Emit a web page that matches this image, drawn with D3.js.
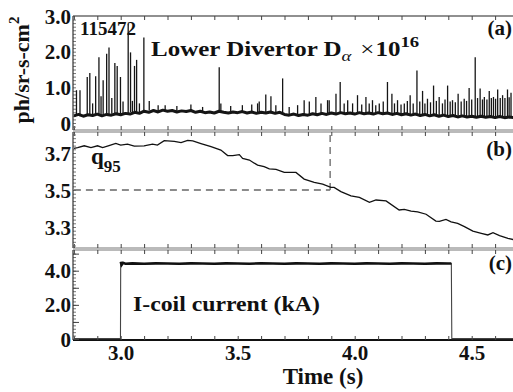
<!DOCTYPE html>
<html><head><meta charset="utf-8">
<script src="https://cdn.jsdelivr.net/npm/d3@7"></script>
<style>
html,body{margin:0;padding:0;background:#fff;}
svg{display:block;}
</style></head><body>
<svg id="chart" width="513" height="392"></svg>
<script>
// ---- data ----
const timeTicks = [3.0, 3.5, 4.0, 4.5];
const timeTickLabels = ["3.0", "3.5", "4.0", "4.5"];

const daTicks = [0, 1, 2, 3];
const daTickLabels = ["0", "1.0", "2.0", "3.0"];
const q95Ticks = [3.3, 3.5, 3.7];
const q95TickLabels = ["3.3", "3.5", "3.7"];
const coilTicks = [0, 2, 4];
const coilTickLabels = ["0", "2.0", "4.0"];

// Lower divertor D-alpha: background level [time (s), value]
const daBaseline = [
  [2.80,0.20],[2.82,0.24],[2.84,0.19],[2.86,0.23],[2.88,0.21],[2.90,0.25],[2.92,0.20],[2.94,0.24],
  [2.96,0.22],[2.98,0.26],[3.00,0.23],[3.02,0.27],[3.04,0.25],[3.06,0.30],[3.08,0.27],[3.10,0.33],
  [3.12,0.30],[3.14,0.35],[3.16,0.31],[3.18,0.36],[3.20,0.33],[3.22,0.35],[3.24,0.31],[3.26,0.34],
  [3.28,0.32],[3.30,0.35],[3.32,0.30],[3.34,0.33],[3.36,0.29],[3.38,0.31],[3.40,0.28],[3.42,0.33],
  [3.44,0.30],[3.46,0.28],[3.48,0.31],[3.50,0.29],[3.52,0.32],[3.54,0.28],[3.56,0.31],[3.58,0.27],
  [3.60,0.30],[3.62,0.28],[3.64,0.31],[3.66,0.27],[3.68,0.30],[3.70,0.24],[3.72,0.22],[3.74,0.25],
  [3.76,0.21],[3.78,0.24],[3.80,0.22],[3.82,0.26],[3.84,0.23],[3.86,0.27],[3.88,0.24],[3.90,0.28],
  [3.92,0.25],[3.94,0.29],[3.96,0.26],[3.98,0.28],[4.00,0.25],[4.02,0.29],[4.04,0.26],[4.06,0.28],
  [4.08,0.25],[4.10,0.29],[4.12,0.26],[4.14,0.28],[4.16,0.24],[4.18,0.27],[4.20,0.23],[4.22,0.26],
  [4.24,0.22],[4.26,0.25],[4.28,0.21],[4.30,0.24],[4.32,0.20],[4.34,0.23],[4.36,0.19],[4.38,0.22],
  [4.40,0.18],[4.42,0.21],[4.44,0.17],[4.46,0.20],[4.48,0.17],[4.50,0.19],[4.52,0.16],[4.54,0.19],
  [4.56,0.16],[4.58,0.18],[4.60,0.15],[4.62,0.18],[4.64,0.15],[4.66,0.17],[4.68,0.15],[4.70,0.16]
];

// ELM spikes: [time (s), peak value]
const daSpikes = [
  [2.811,0.92],[2.826,0.92],[2.857,1.29],[2.868,1.40],[2.880,0.55],[2.893,1.31],[2.907,1.84],[2.916,0.75],
  [2.925,1.20],[2.940,1.94],[2.950,2.12],[2.962,0.70],[2.975,1.68],[2.985,1.60],[2.999,1.29],[3.010,0.60],
  [3.032,2.77],[3.042,1.98],[3.050,0.62],[3.059,1.60],[3.068,1.77],[3.080,0.55],[3.099,2.40],[3.122,0.62],
  [3.160,0.50],[3.190,0.50],[3.240,0.48],[3.300,0.52],[3.350,0.45],[3.421,1.56],[3.428,0.55],[3.470,0.48],
  [3.520,0.50],[3.560,0.52],[3.585,0.55],[3.592,0.60],[3.620,0.80],[3.642,0.75],[3.663,0.50],[3.692,1.25],
  [3.720,0.45],[3.756,0.50],[3.784,0.64],[3.806,0.60],[3.834,0.73],[3.856,0.55],[3.884,0.64],[3.891,0.64],
  [3.920,0.82],[3.938,1.15],[3.955,0.55],[3.970,0.64],[3.991,0.55],[4.012,0.78],[4.030,0.52],[4.048,0.73],
  [4.062,0.55],[4.076,0.64],[4.090,0.50],[4.105,0.55],[4.122,0.60],[4.140,1.15],[4.159,0.82],[4.170,0.55],
  [4.183,0.64],[4.198,0.52],[4.212,0.55],[4.225,0.62],[4.237,0.78],[4.250,0.55],[4.266,1.47],[4.278,0.60],
  [4.290,0.90],[4.300,0.55],[4.311,0.68],[4.324,0.58],[4.337,1.05],[4.349,0.62],[4.361,0.73],[4.375,0.55],
  [4.386,0.66],[4.397,1.05],[4.408,0.60],[4.418,0.64],[4.430,0.58],[4.442,0.82],[4.455,0.60],[4.468,0.68],
  [4.478,0.62],[4.489,0.98],[4.500,0.66],[4.515,1.84],[4.525,0.70],[4.536,0.97],[4.546,0.66],[4.554,0.73],
  [4.565,0.66],[4.575,0.90],[4.584,0.70],[4.593,0.73],[4.602,0.68],[4.611,0.94],[4.622,0.70],[4.632,0.78],
  [4.642,0.70],[4.653,0.94],[4.660,0.72],[4.668,0.85],[4.680,0.75],[4.692,0.80]
];

// Edge safety factor q95: [time (s), q95]
const q95Series = [
  [2.800,3.725],[2.816,3.729],[2.844,3.739],[2.873,3.729],[2.901,3.739],[2.923,3.729],[2.950,3.740],
  [2.979,3.752],[3.000,3.743],[3.029,3.748],[3.058,3.737],[3.100,3.739],[3.136,3.748],[3.157,3.743],
  [3.186,3.767],[3.229,3.763],[3.258,3.756],[3.286,3.768],[3.308,3.765],[3.343,3.751],[3.386,3.734],
  [3.428,3.716],[3.457,3.686],[3.479,3.686],[3.507,3.691],[3.521,3.671],[3.550,3.662],[3.571,3.645],
  [3.585,3.635],[3.613,3.626],[3.635,3.614],[3.664,3.612],[3.699,3.595],[3.749,3.595],[3.784,3.559],
  [3.827,3.541],[3.863,3.532],[3.898,3.514],[3.912,3.514],[3.941,3.491],[3.984,3.468],[4.020,3.460],
  [4.063,3.433],[4.091,3.446],[4.134,3.441],[4.190,3.392],[4.212,3.395],[4.241,3.386],[4.269,3.382],
  [4.305,3.369],[4.347,3.332],[4.362,3.330],[4.390,3.341],[4.412,3.328],[4.440,3.320],[4.469,3.302],
  [4.505,3.278],[4.541,3.266],[4.569,3.257],[4.591,3.269],[4.619,3.253],[4.655,3.239],[4.684,3.230],
  [4.700,3.226]
];
const q95Threshold = 3.5;
const q95CrossTime = 3.895;

// I-coil current (kA): [time (s), current]
const coilSeries = [
  [2.80,0.02],[2.999,0.02],[3.000,4.52],[3.004,4.34],[3.010,4.46],[3.020,4.41],[3.05,4.43],[3.10,4.41],
  [3.15,4.43],[3.20,4.42],[3.25,4.41],[3.30,4.43],[3.35,4.42],[3.40,4.41],[3.45,4.43],[3.50,4.42],
  [3.55,4.41],[3.60,4.43],[3.65,4.42],[3.70,4.41],[3.75,4.43],[3.80,4.42],[3.85,4.41],[3.90,4.43],
  [3.95,4.42],[4.00,4.41],[4.05,4.43],[4.10,4.42],[4.15,4.41],[4.20,4.43],[4.25,4.42],[4.30,4.41],
  [4.35,4.43],[4.40,4.42],[4.413,4.42],[4.415,0.02],[4.70,0.02]
];
const coilOn = [3.0, 4.413];

// ---- layout ----
const FONT = "'Liberation Serif', 'Times New Roman', 'Noto Serif', 'DejaVu Serif', serif";
const svg = d3.select("#chart");
const left = 73;
const x = d3.scaleLinear().domain([2.8, 4.7]).range([73.9, 518.5]);

const panels = [
  {id: "a", top: 16, bottom: 130, y: d3.scaleLinear().domain([0, 3]).range([123, 16]),
   ticks: daTicks, labels: daTickLabels, minorStep: 0.1, majorStep: 0.5, lo: -0.3, hi: 3.0},
  {id: "b", top: 132, bottom: 248, y: d3.scaleLinear().domain([3.3, 3.7]).range([227, 153]),
   ticks: q95Ticks, labels: q95TickLabels, minorStep: 0.02, majorStep: 0.1, lo: 3.16, hi: 3.84},
  {id: "c", top: 250, bottom: 340, y: d3.scaleLinear().domain([0, 4]).range([339, 270.7]),
   ticks: coilTicks, labels: coilTickLabels, minorStep: 0.2, majorStep: 1.0, lo: 0, hi: 5.4}
];

const axisColor = "#444";
const xMinor = d3.range(28, 48).map(v => v / 10);

function styleText(sel, size) {
  sel.attr("font-family", FONT).style("font-family", FONT)
    .style("font-weight", "bold").style("font-size", size + "px").attr("fill", "#111");
}
// stretch a left-anchored label horizontally so it spans the given width
function fitWidth(sel, x0, width) {
  const w = sel.node().getBBox().width;
  const s = width / w;
  sel.attr("transform", `translate(${x0},0) scale(${s},1) translate(${-x0},0)`);
}

panels.forEach(p => {
  const g = svg.append("g");
  svg.append("clipPath").attr("id", "clip-" + p.id)
    .append("rect").attr("x", left).attr("y", p.top).attr("width", 513 - left).attr("height", p.bottom - p.top);

  // top and bottom frame lines
  g.append("line").attr("x1", left).attr("x2", 513).attr("y1", p.top).attr("y2", p.top)
    .attr("stroke", p.id === "a" ? "#222" : "#777").attr("stroke-width", 1.1);
  g.append("line").attr("x1", left).attr("x2", 513).attr("y1", p.bottom).attr("y2", p.bottom)
    .attr("stroke", p.id === "c" ? "#111" : "#777").attr("stroke-width", p.id === "c" ? 2 : 1.1);

  // time ticks along top and bottom, pointing inward
  const topAxis = d3.axisTop(x).tickValues(xMinor).tickSize(-4).tickFormat("");
  const botAxis = d3.axisBottom(x).tickValues(xMinor).tickSize(-4).tickFormat("");
  g.append("g").attr("transform", `translate(0,${p.top})`).call(topAxis)
    .call(s => s.select(".domain").remove())
    .call(s => s.selectAll("line").attr("stroke", axisColor));
  g.append("g").attr("transform", `translate(0,${p.bottom})`).call(botAxis)
    .call(s => s.select(".domain").remove())
    .call(s => s.selectAll("line").attr("stroke", axisColor));

  // left axis: dense minor ticks, longer major ticks, labels
  const nMinor = Math.round((p.hi - p.lo) / p.minorStep);
  const minorVals = d3.range(0, nMinor + 1).map(i => +(p.lo + i * p.minorStep).toFixed(3))
    .filter(v => p.y(v) >= p.top + 1 && p.y(v) <= p.bottom - 1);
  const nMajor = Math.round((p.hi - p.lo) / p.majorStep);
  const majorVals = d3.range(0, nMajor + 1).map(i => +(p.lo + i * p.majorStep).toFixed(3))
    .filter(v => Math.abs(Math.round(v / p.majorStep) * p.majorStep - v) < 1e-6)
    .filter(v => p.y(v) >= p.top + 1 && p.y(v) <= p.bottom - 1);

  g.append("g").attr("transform", `translate(${left},0)`)
    .call(d3.axisLeft(p.y).tickValues(minorVals).tickSize(-3).tickFormat(""))
    .call(s => s.select(".domain").remove())
    .call(s => s.selectAll("line").attr("stroke", "#777"));
  g.append("g").attr("transform", `translate(${left},0)`)
    .call(d3.axisLeft(p.y).tickValues(majorVals).tickSize(-6).tickFormat(""))
    .call(s => s.select(".domain").remove())
    .call(s => s.selectAll("line").attr("stroke", axisColor));
  const lab = g.append("g").attr("transform", `translate(${left},0)`)
    .call(d3.axisLeft(p.y).tickValues(p.ticks).tickSize(0).tickPadding(2)
      .tickFormat((d, i) => p.labels[i]));
  lab.attr("font-family", FONT);
  lab.select(".domain").remove();
  lab.selectAll("text").call(styleText, 21).attr("dy", "0.34em");

  // left axis line
  g.append("line").attr("x1", left).attr("x2", left).attr("y1", p.top).attr("y2", p.bottom)
    .attr("stroke", "#333").attr("stroke-width", 1.2);
});

// time tick labels under the bottom panel
const xLab = svg.append("g").attr("transform", `translate(0,340)`)
  .call(d3.axisBottom(x).tickValues(timeTicks).tickSize(0).tickPadding(5)
    .tickFormat((d, i) => timeTickLabels[i]));
xLab.attr("font-family", FONT);
xLab.select(".domain").remove();
xLab.selectAll("text").call(styleText, 21).attr("dy", "0.71em");

// ---- panel (a): D-alpha ----
const pa = panels[0];
const ga = svg.append("g").attr("clip-path", "url(#clip-a)");
ga.append("path").datum(daBaseline)
  .attr("d", d3.line().x(d => x(d[0])).y(d => pa.y(d[1])))
  .attr("fill", "none").attr("stroke", "#151515").attr("stroke-width", 3).attr("stroke-linejoin", "bevel");
const baseAt = t => daBaseline[Math.min(daBaseline.length - 1, d3.bisector(d => d[0]).left(daBaseline, t))][1];
ga.selectAll("line.spike").data(daSpikes).join("line").attr("class", "spike")
  .attr("x1", d => x(d[0])).attr("x2", d => x(d[0]))
  .attr("y1", d => pa.y(baseAt(d[0]))).attr("y2", d => pa.y(d[1]))
  .attr("stroke", "#151515").attr("stroke-width", 1.3);

// ---- panel (b): q95 ----
const pb = panels[1];
const gb = svg.append("g").attr("clip-path", "url(#clip-b)");
gb.append("path").datum([[2.8, q95Threshold], [q95CrossTime, q95Threshold]])
  .attr("d", d3.line().x(d => x(d[0])).y(d => pb.y(d[1])))
  .attr("fill", "none").attr("stroke", "#666").attr("stroke-width", 1.3).attr("stroke-dasharray", "7,5");
gb.append("line").attr("x1", x(q95CrossTime)).attr("x2", x(q95CrossTime))
  .attr("y1", pb.y(q95Threshold)).attr("y2", pb.top + 3)
  .attr("stroke", "#666").attr("stroke-width", 1.3).attr("stroke-dasharray", "7,5");
gb.append("path").datum(q95Series)
  .attr("d", d3.line().x(d => x(d[0])).y(d => pb.y(d[1])))
  .attr("fill", "none").attr("stroke", "#111").attr("stroke-width", 1.3);

// ---- panel (c): I-coil current ----
const pc = panels[2];
const gc = svg.append("g").attr("clip-path", "url(#clip-c)");
gc.append("path").datum(coilSeries)
  .attr("d", d3.line().x(d => x(d[0])).y(d => pc.y(d[1])))
  .attr("fill", "none").attr("stroke", "#444").attr("stroke-width", 1.1);
gc.append("path").datum(coilSeries.filter(d => d[0] >= coilOn[0] && d[0] <= coilOn[1]))
  .attr("d", d3.line().x(d => x(d[0])).y(d => pc.y(d[1])))
  .attr("fill", "none").attr("stroke", "#111").attr("stroke-width", 2.6);

// ---- annotations ----
svg.append("text").attr("x", 80).attr("y", 35).text("115472").call(styleText, 19);
const t1 = svg.append("text").attr("x", 151).attr("y", 56).call(styleText, 20);
t1.append("tspan").text("Lower Divertor D");
t1.append("tspan").attr("dy", 5).style("font-size", "15px").style("font-weight", "normal")
  .style("font-style", "italic").text("α");
t1.append("tspan").attr("dy", -5).attr("dx", 7).style("font-weight", "normal").text("×");
t1.append("tspan").attr("dx", 1).text("10");
t1.append("tspan").attr("dy", -9).style("font-size", "15px").text("16");
fitWidth(t1, 151, 269);

svg.append("text").attr("x", 512).attr("y", 35).attr("text-anchor", "end").text("(a)").call(styleText, 21);
svg.append("text").attr("x", 512).attr("y", 156).attr("text-anchor", "end").text("(b)").call(styleText, 21);
svg.append("text").attr("x", 512).attr("y", 270).attr("text-anchor", "end").text("(c)").call(styleText, 21);

const q = svg.append("text").attr("x", 91).attr("y", 164).call(styleText, 23);
q.append("tspan").text("q");
q.append("tspan").attr("dy", 8).style("font-size", "17px").text("95");

const ic = svg.append("text").attr("x", 133).attr("y", 311).text("I-coil current (kA)").call(styleText, 22);
fitWidth(ic, 133, 187);
svg.append("text").attr("x", 323).attr("y", 384).attr("text-anchor", "middle").text("Time (s)").call(styleText, 23);

const yl = svg.append("text").attr("transform", "translate(29,70) rotate(-90)")
  .attr("text-anchor", "middle").call(styleText, 22);
yl.append("tspan").text("ph/sr-s-cm");
yl.append("tspan").attr("dy", -10).style("font-size", "15px").text("2");
</script>
</body></html>
